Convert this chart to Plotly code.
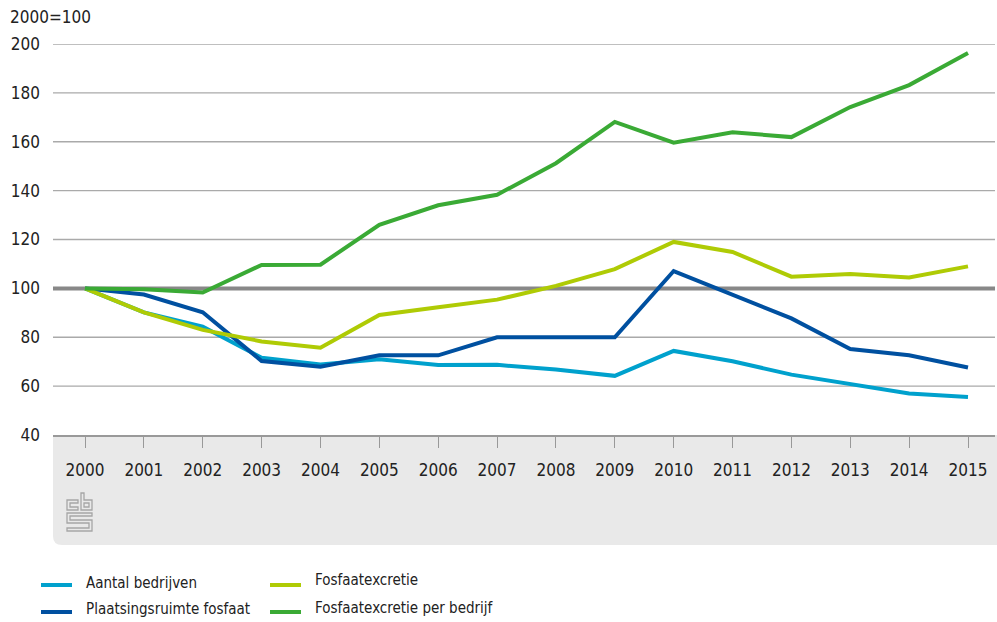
import plotly.graph_objects as go

years = list(range(2000, 2016))
aantal_bedrijven = [100, 90.2, 84.3, 71.6, 68.9, 71.0, 68.6, 68.7, 66.8, 64.2, 74.4, 70.2, 64.7, 60.8, 57.0, 55.5]
plaatsingsruimte = [100, 97.5, 90.2, 70.3, 67.9, 72.6, 72.6, 80.0, 80.0, 80.0, 107.1, 97.4, 87.7, 75.2, 72.6, 67.6]
fosfaatexcretie = [100, 90.2, 83.0, 78.3, 75.7, 89.1, 92.3, 95.4, 101.0, 107.9, 119.0, 114.9, 104.8, 105.9, 104.5, 109.0]
per_bedrijf = [100, 99.6, 98.3, 109.6, 109.7, 126.0, 134.0, 138.3, 151.2, 168.1, 159.6, 163.9, 161.9, 174.2, 183.2, 196.3]

series = [
    ("Aantal bedrijven", aantal_bedrijven, "#00a1cd"),
    ("Plaatsingsruimte fosfaat", plaatsingsruimte, "#0050a0"),
    ("Fosfaatexcretie", fosfaatexcretie, "#afcb05"),
    ("Fosfaatexcretie per bedrijf", per_bedrijf, "#3aaa35"),
]
y_ticks = [40, 60, 80, 100, 120, 140, 160, 180, 200]
base_value = 100

W, H = 997, 622
L, R, T, B = 53, 2, 44, 187
PW = W - L - R
PH = H - T - B
BOTTOM = H - B


def px(x):
    return (x - L) / PW


def py(y):
    return (BOTTOM - y) / PH


def path(points, close=True):
    s = "M" + " L".join(f"{px(x):.5f},{py(y):.5f}" for x, y in points)
    return s + (" Z" if close else "")


fig = go.Figure()
for name, vals, col in series:
    fig.add_trace(go.Scatter(x=years, y=vals, mode="lines", name=name,
                             line=dict(color=col, width=4), showlegend=False))

shapes = []
# grey band under the plot with rounded bottom-left corner
r = 9
bx0, bx1, by0, by1 = 53, 997, 435, 545
band = (f"M{px(bx0):.5f},{py(by0):.5f} L{px(bx1):.5f},{py(by0):.5f} "
        f"L{px(bx1):.5f},{py(by1):.5f} L{px(bx0 + r):.5f},{py(by1):.5f} "
        f"Q{px(bx0):.5f},{py(by1):.5f} {px(bx0):.5f},{py(by1 - r):.5f} Z")
shapes.append(dict(type="path", xref="paper", yref="paper", path=band,
                   fillcolor="#e9e9e9", line=dict(width=0), layer="below"))
# gridlines (except the base line)
for v in y_ticks:
    if v in (base_value, y_ticks[0]):
        continue
    shapes.append(dict(type="line", xref="paper", yref="y", x0=0, x1=1, y0=v, y1=v,
                       line=dict(color="#aaaaaa", width=1.3), layer="below"))
# 100 reference line
shapes.append(dict(type="line", xref="paper", yref="y", x0=0, x1=1, y0=base_value, y1=base_value,
                   line=dict(color="#888888", width=4), layer="below"))

# logo (cbs)
lc = dict(color="#a6a6a6", width=1.3)
logo_paths = [
    [(78, 500), (67, 500), (67, 510), (78, 510), (78, 507), (70, 507), (70, 503), (78, 503)],
    [(81, 493), (81, 510), (92, 510), (92, 500), (84, 500), (84, 493)],
    [(84, 503), (89, 503), (89, 507), (84, 507)],
    [(92, 513), (67, 513), (67, 523), (89, 523), (89, 528), (67, 528), (67, 531), (92, 531),
     (92, 520), (70, 520), (70, 516), (92, 516)],
]
for pts in logo_paths:
    shapes.append(dict(type="path", xref="paper", yref="paper", path=path(pts),
                       line=lc, fillcolor="rgba(0,0,0,0)"))

# legend
legend_items = [
    ("Aantal bedrijven", "#00a1cd", 41, 72, 585, 84, 583),
    ("Plaatsingsruimte fosfaat", "#0050a0", 41, 72, 612, 84, 609),
    ("Fosfaatexcretie", "#afcb05", 270, 301, 585, 313, 580),
    ("Fosfaatexcretie per bedrijf", "#3aaa35", 270, 301, 612, 313, 608),
]
annotations = []
for text, col, lx0, lx1, ly, tx, ty in legend_items:
    shapes.append(dict(type="line", xref="paper", yref="paper",
                       x0=px(lx0), x1=px(lx1), y0=py(ly), y1=py(ly),
                       line=dict(color=col, width=4)))
    annotations.append(dict(text=text, xref="paper", yref="paper", x=px(tx), y=py(ty),
                            xanchor="left", yanchor="middle", showarrow=False,
                            font=dict(family="DejaVu Sans Condensed, sans-serif",
                                      size=15, color="#222222")))

annotations.append(dict(text="2000=100", xref="paper", yref="paper", x=px(8), y=py(17),
                        xanchor="left", yanchor="middle", showarrow=False,
                        font=dict(family="DejaVu Sans Condensed, DejaVu Sans", size=17, color="#222222")))

fig.update_layout(
    width=W, height=H,
    margin=dict(l=L, r=R, t=T, b=B),
    paper_bgcolor="white", plot_bgcolor="white",
    font=dict(family="DejaVu Sans Condensed, DejaVu Sans", size=17, color="#222222"),
    shapes=shapes, annotations=annotations,
    showlegend=False,
)
fig.update_xaxes(range=[2000 - 32 / 58.87, 2015 + 27 / 58.87], tickmode="array",
                 tickvals=years, ticktext=[str(y) for y in years],
                 showgrid=False, zeroline=False, showline=True, linecolor="#999999", linewidth=1.5,
                 ticks="outside", ticklen=11, tickwidth=1.3, tickcolor="#999999",
                 ticklabelstandoff=8, fixedrange=True)
fig.update_yaxes(range=[40, 200], tickmode="array", tickvals=y_ticks,
                 ticktext=[str(v) for v in y_ticks],
                 showgrid=False, zeroline=False,
                 ticks="", ticklabelstandoff=12, fixedrange=True)

fig.write_html("out.html", config={"displayModeBar": False},
               post_script="document.body.style.margin='0';document.body.style.overflow='hidden';")
